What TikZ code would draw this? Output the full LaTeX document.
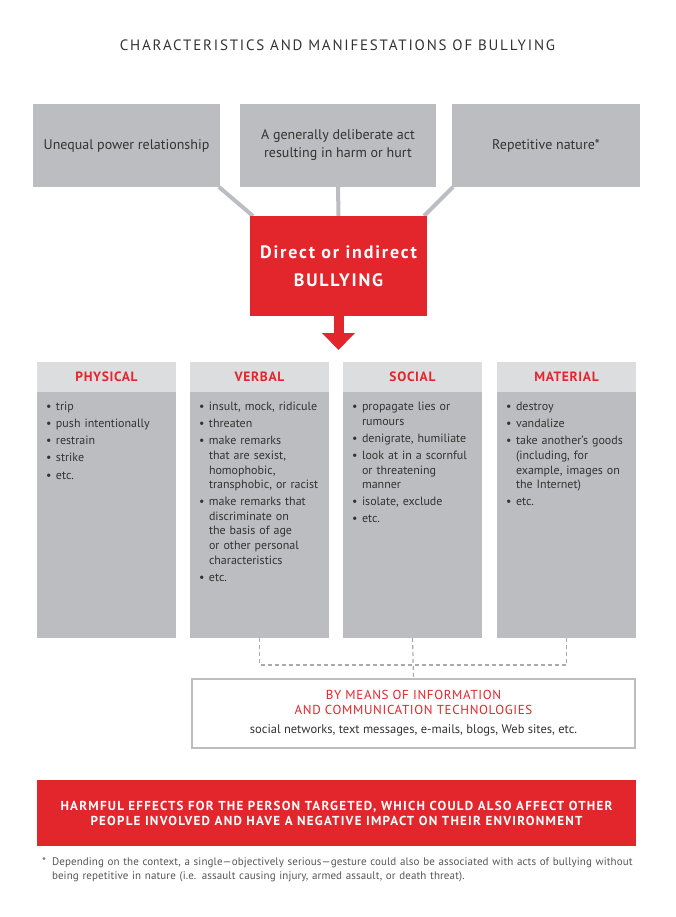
\documentclass[tikz,border=0pt]{standalone}
\usepackage{fontspec}
\setmainfont{PT Sans}
\usetikzlibrary{positioning, arrows.meta, backgrounds}

\definecolor{bullyred}{HTML}{E3262B}
\definecolor{boxgray}{HTML}{BCBDC0}
\definecolor{headgray}{HTML}{DCDDDF}
\definecolor{textgray}{HTML}{333333}
\definecolor{notegray}{HTML}{555555}
\definecolor{dashgray}{HTML}{A9AAAD}

% one bullet item with hanging indent
\newcommand{\bitem}[1]{\par\hangindent=10pt\hangafter=1\noindent\makebox[10pt][l]{\textbullet}#1\par\vspace{2.5pt}}

\begin{document}
\begin{tikzpicture}[x=1pt, y=-1pt,
  every node/.style={inner sep=0pt, outer sep=0pt},
  topbox/.style={fill=boxgray, minimum height=83pt, align=center, text=textgray, font=\fontsize{14}{18}\selectfont},
  headbox/.style={fill=headgray, minimum width=139pt, minimum height=30pt, text=bullyred,
                  font=\bfseries\fontsize{13.5}{15}\selectfont\addfontfeature{LetterSpace=5}},
  bodybox/.style={fill=boxgray, minimum width=139pt, minimum height=246pt},
  itemlist/.style={anchor=north west, text width=128pt, align=left, text=textgray, font=\fontsize{12}{14.6}\selectfont},
  link/.style={draw=boxgray, line width=4pt},
  ictlink/.style={draw=dashgray, line width=1.2pt, dash pattern=on 4pt off 3pt}]
  \useasboundingbox (0,0) rectangle (675,917);

  \node[font=\fontsize{15}{18}\selectfont\addfontfeature{LetterSpace=12}, text=textgray] (title) at (337.5,45)
        {CHARACTERISTICS AND MANIFESTATIONS OF BULLYING};

  % characteristics
  \node[topbox, minimum width=187pt] (power) at (126.5,145.5) {Unequal power relationship};
  \node[topbox, minimum width=196pt] (act) at (338,145.5) {A generally deliberate act\\resulting in harm or hurt};
  \node[topbox, minimum width=188pt] (repeat) at (546,145.5) {Repetitive nature*};

  \node[fill=bullyred, minimum width=177pt, minimum height=100pt, align=center, text=white,
        font=\bfseries\fontsize{18}{28}\selectfont\addfontfeature{LetterSpace=10}] (bully) at (338.5,266)
        {Direct or indirect\\BULLYING};

  \begin{scope}[on background layer]
    \draw[link] ([xshift=-1pt]power.south east) -- ([xshift=3pt]bully.north west);
    \draw[link] (act.south) -- (bully.north);
    \draw[link] ([xshift=1pt]repeat.south west) -- ([xshift=-3pt]bully.north east);
  \end{scope}

  \coordinate (arrowtip) at (338.5,350);
  \draw[bullyred, line width=10pt, -{Triangle[width=32pt, length=17pt]}] (bully.south) -- (arrowtip);

  % manifestations
  \node[headbox] (physhead) at (106.5,377) {PHYSICAL};
  \node[headbox] (verbhead) at (259.5,377) {VERBAL};
  \node[headbox] (sochead) at (412.5,377) {SOCIAL};
  \node[headbox] (mathead) at (566.5,377) {MATERIAL};

  \node[bodybox, below=0pt of physhead] (physbody) {};
  \node[bodybox, below=0pt of verbhead] (verbbody) {};
  \node[bodybox, below=0pt of sochead] (socbody) {};
  \node[bodybox, below=0pt of mathead] (matbody) {};

  \node[itemlist] (physlist) at (46,396) {\bitem{trip}\bitem{push intentionally}\bitem{restrain}\bitem{strike}\bitem{etc.}};
  \node[itemlist] (verblist) at (199,396) {\bitem{insult, mock, ridicule}\bitem{threaten}%
    \bitem{make remarks\newline that are sexist,\newline homophobic,\newline transphobic, or racist}%
    \bitem{make remarks that\newline discriminate on\newline the basis of age\newline or other personal\newline characteristics}\bitem{etc.}};
  \node[itemlist] (soclist) at (352,396) {\bitem{propagate lies or\newline rumours}\bitem{denigrate, humiliate}%
    \bitem{look at in a scornful\newline or threatening\newline manner}\bitem{isolate, exclude}\bitem{etc.}};
  \node[itemlist] (matlist) at (506,396) {\bitem{destroy}\bitem{vandalize}%
    \bitem{take another’s goods\newline (including, for\newline example, images on\newline the Internet)}\bitem{etc.}};

  % ICT
  \node[draw=boxgray, line width=1.5pt, fill=white, minimum width=443pt, minimum height=69pt, align=center,
        text=bullyred, font=\fontsize{13}{15}\selectfont\addfontfeature{LetterSpace=5}] (ict) at (413.5,713.5)
        {BY MEANS OF INFORMATION\\AND COMMUNICATION TECHNOLOGIES\\[4pt]%
         \textcolor{textgray}{\fontsize{12.5}{15}\selectfont\addfontfeature{LetterSpace=0}social networks, text messages, e-mails, blogs, Web sites, etc.}};

  \draw[ictlink] (verbbody.south) -- ++(0,27) -| (matbody.south);
  \draw[ictlink] (socbody.south) -- (ict.north);

  % effects
  \node[fill=bullyred, minimum width=599pt, minimum height=66pt, align=center, text=white,
        font=\bfseries\fontsize{13}{15}\selectfont\addfontfeature{LetterSpace=9.5}] (harm) at (336.5,813)
        {HARMFUL EFFECTS FOR THE PERSON TARGETED, WHICH COULD ALSO AFFECT OTHER\\PEOPLE INVOLVED AND HAVE A NEGATIVE IMPACT ON THEIR ENVIRONMENT};

  \node[anchor=north west, text width=600pt, align=left, text=notegray,
        font=\fontsize{11}{14}\selectfont\addfontfeature{LetterSpace=1}] (note) at (42,851)
        {\par\hangindent=10pt\hangafter=1\noindent\makebox[10pt][l]{*}Depending on the context, a single—objectively serious—gesture could also be associated with acts of bullying without\newline being repetitive in nature (i.e. assault causing injury, armed assault, or death threat).\par};
\end{tikzpicture}
\end{document}
